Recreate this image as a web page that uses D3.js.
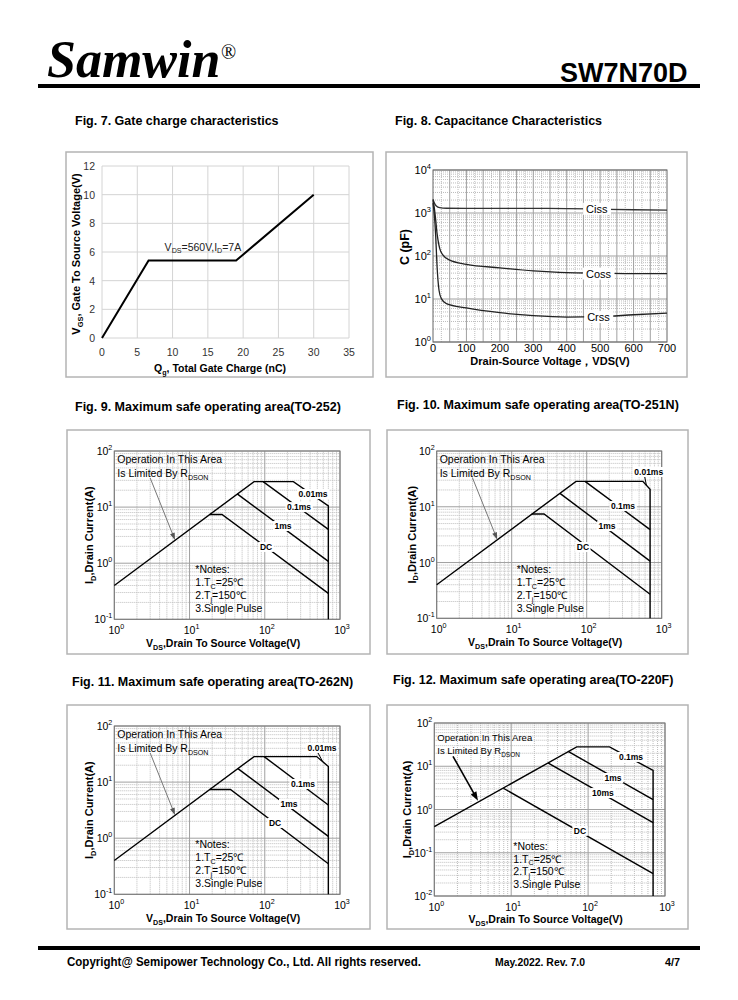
<!DOCTYPE html>
<html>
<head>
<meta charset="utf-8">
<script src="https://cdn.jsdelivr.net/npm/d3@7"></script>
<style>
body { margin: 0; background: #fff; }
svg { display: block; }
text { font-family: "Liberation Sans", Arial, sans-serif; fill: #000; }
</style>
</head>
<body>
<svg id="page" width="738" height="1000"></svg>
<script>
"use strict";

// ---- Fig. 7 gate charge ----
var QG = [0, 6.6, 19, 30];
var VGS = [0, 5.4, 5.4, 10];
var QG_TICKS = [0, 5, 10, 15, 20, 25, 30, 35];
var VGS_TICKS = [0, 2, 4, 6, 8, 10, 12];

// ---- Fig. 8 capacitance ----
var VDS_TICKS = [0, 100, 200, 300, 400, 500, 600, 700];
var CISS_V = [0, 5, 10, 20, 40, 100, 300, 400, 500, 600, 700];
var CISS = [2100, 1650, 1450, 1330, 1290, 1280, 1280, 1270, 1230, 1190, 1170];
var COSS_V = [0, 4, 8, 12, 15, 20, 30, 50, 100, 200, 300, 400, 500, 600, 700];
var COSS = [2000, 1300, 700, 340, 234, 150, 105, 80, 64, 53, 45, 41, 40, 39, 39];
var CRSS_V = [0, 4, 8, 12, 18, 25, 40, 100, 200, 300, 400, 500, 600, 700];
var CRSS = [1700, 900, 300, 60, 16, 10.2, 7.8, 6.2, 4.8, 4.1, 3.8, 3.9, 4.3, 4.7];

// ---- SOA curves, [VDS, ID] ----
var F9_LIMIT = [[1, 0.4], [72, 28.5], [240, 28.5], [700, 10.5], [700, 0.1]];
var F9_P01 = [[95, 28.5], [700, 4]];
var F9_P1 = [[43, 17.2], [700, 1.08]];
var F9_DC = [[18.5, 7.4], [27, 7.4], [700, 0.29]];

var F10_LIMIT = [[1, 0.4], [72, 28.5], [560, 28.5], [700, 20.5], [700, 0.1]];
var F10_P01 = [[95, 28.5], [700, 3.9]];
var F10_P1 = [[44, 17.4], [700, 1.06]];
var F10_DC = [[18.5, 7.4], [27, 7.4], [700, 0.27]];

var F11_LIMIT = [[1, 0.4], [72, 28.5], [490, 28.5], [700, 19], [700, 0.1]];
var F11_P01 = [[98, 28.5], [700, 3.9]];
var F11_P1 = [[44, 17.4], [700, 1.08]];
var F11_DC = [[18.5, 7.4], [35, 7.4], [700, 0.35]];

var F12_LIMIT = [[1, 0.4], [71, 28], [190, 28], [700, 8], [700, 0.01]];
var F12_P1 = [[55, 22], [700, 1.7]];
var F12_P10 = [[30, 12], [700, 0.5]];
var F12_DC = [[7.9, 3.1], [700, 0.033]];

var SOA_XTICKS = [1, 10, 100, 1000];

var GRID = "#a0a0a0";
var GRID_MINOR = "#bdbdbd";

var svg = d3.select("#page");

// text with sub/superscript parts: [[str, "sub"|"sup"|null], ...]
var rich = function(t, parts) {
    var shift = 0;
    parts.forEach(function(p) {
        var s = p[1] === "sub" ? 2.5 : (p[1] === "sup" ? -5 : 0);
        var ts = t.append("tspan").attr("dy", s - shift).text(p[0]);
        if (p[1]) {
            ts.style("font-size", "68%");
        }
        shift = s;
    });
    return t;
};

var text = function(g, x, y, size, opts) {
    opts = opts || {};
    var t = g.append("text").attr("x", x).attr("y", y)
        .style("font-size", size + "px");
    if (opts.bold) t.style("font-weight", "bold");
    if (opts.anchor) t.attr("text-anchor", opts.anchor);
    if (opts.family) t.style("font-family", opts.family);
    if (opts.fill) t.style("fill", opts.fill);
    if (opts.rotate) t.attr("transform", "rotate(-90," + x + "," + y + ")");
    if (opts.len) t.attr("textLength", opts.len).attr("lengthAdjust", "spacingAndGlyphs");
    return t;
};

// white box behind a label so it cuts the line under it
var boxed = function(g, t, pad) {
    var b = t.node().getBBox();
    g.insert("rect", function() { return t.node(); })
        .attr("x", b.x - pad).attr("y", b.y)
        .attr("width", b.width + 2 * pad).attr("height", b.height)
        .attr("fill", "#fff");
};

var minors = function(d0, d1) {
    var out = [];
    for (var e = Math.round(Math.log10(d0)); e < Math.round(Math.log10(d1)); ++e) {
        for (var k = 2; k < 10; ++k) {
            out.push(k * Math.pow(10, e));
        }
    }
    return out;
};
var decades = function(d0, d1) {
    var out = [];
    for (var e = Math.round(Math.log10(d0)); e <= Math.round(Math.log10(d1)); ++e) {
        out.push(Math.pow(10, e));
    }
    return out;
};

var panel = function(x0, y0, x1, y1) {
    svg.append("rect").attr("x", x0).attr("y", y0)
        .attr("width", x1 - x0).attr("height", y1 - y0)
        .attr("fill", "none").attr("stroke", "#b4b4b4").attr("stroke-width", 1.5);
};

// ---- page header / footer ----
text(svg, 47, 77, 52, {bold: true, family: "'Liberation Serif', 'Times New Roman', serif"})
    .style("font-style", "italic").text("Samwin");
text(svg, 221, 59, 20, {family: "'Liberation Serif', serif"}).text("\u00ae");
text(svg, 560, 82, 27, {bold: true}).text("SW7N70D");
svg.append("rect").attr("x", 38).attr("y", 84).attr("width", 662).attr("height", 4).attr("fill", "#000");

svg.append("rect").attr("x", 38).attr("y", 946).attr("width", 662).attr("height", 4).attr("fill", "#000");
text(svg, 67, 966, 12.5, {bold: true, len: 354}).text("Copyright@ Semipower Technology Co., Ltd. All rights reserved.");
text(svg, 495, 966, 10.5, {bold: true, len: 90}).text("May.2022. Rev. 7.0");
text(svg, 665, 966, 10.5, {bold: true, len: 15}).text("4/7");

// ---- figure titles ----
text(svg, 75, 125, 12.5, {bold: true}).text("Fig. 7. Gate charge characteristics");
text(svg, 395, 125, 12.5, {bold: true}).text("Fig. 8. Capacitance Characteristics");
text(svg, 75, 411, 12.5, {bold: true}).text("Fig. 9. Maximum safe operating area(TO-252)");
text(svg, 397, 409, 12.5, {bold: true}).text("Fig. 10. Maximum safe operating area(TO-251N)");
text(svg, 72, 686, 12.5, {bold: true}).text("Fig. 11. Maximum safe operating area(TO-262N)");
text(svg, 393, 684, 12.5, {bold: true}).text("Fig. 12. Maximum safe operating area(TO-220F)");

// ---- Fig. 7 ----
(function() {
    panel(66, 152, 373, 377);
    var g = svg.append("g");
    var x = d3.scaleLinear().domain([0, 35]).range([102, 349]);
    var y = d3.scaleLinear().domain([0, 12]).range([338, 166]);
    g.selectAll(".gx").data(QG_TICKS).join("line")
        .attr("x1", function(d) { return x(d); }).attr("x2", function(d) { return x(d); })
        .attr("y1", y(0)).attr("y2", y(12))
        .attr("stroke", "#d4d4d4").attr("stroke-width", 1);
    g.selectAll(".gy").data(VGS_TICKS).join("line")
        .attr("x1", x(0)).attr("x2", x(35))
        .attr("y1", function(d) { return y(d); }).attr("y2", function(d) { return y(d); })
        .attr("stroke", "#d4d4d4").attr("stroke-width", 1);
    QG_TICKS.forEach(function(d) {
        text(g, x(d), 356, 10.5, {anchor: "middle", fill: "#333"}).text(d);
    });
    VGS_TICKS.forEach(function(d) {
        text(g, 95, y(d) + 4, 10.5, {anchor: "end", fill: "#333"}).text(d);
    });
    g.append("path")
        .datum(d3.range(QG.length))
        .attr("fill", "none").attr("stroke", "#000").attr("stroke-width", 2)
        .attr("d", d3.line()
            .x(function(i) { return x(QG[i]); })
            .y(function(i) { return y(VGS[i]); }));
    rich(text(g, x(14.3), y(6.1), 10.5, {anchor: "middle", fill: "#222"}),
        [["V", null], ["DS", "sub"], ["=560V,I", null], ["D", "sub"], ["=7A", null]]);
    rich(text(g, 220, 372, 10.5, {anchor: "middle", bold: true}),
        [["Q", null], ["g", "sub"], [", Total Gate Charge (nC)", null]]);
    rich(text(g, 80, 254, 11, {anchor: "middle", bold: true, rotate: true}),
        [["V", null], ["GS", "sub"], [",  Gate To  Source Voltage(V)", null]]);
})();

// ---- Fig. 8 ----
(function() {
    panel(386, 152, 687, 377);
    var g = svg.append("g");
    var x = d3.scaleLinear().domain([0, 700]).range([433, 667]);
    var y = d3.scaleLog().domain([1, 10000]).range([342, 170]);
    g.selectAll(".mx").data(d3.range(25, 700, 50)).join("line")
        .attr("x1", function(d) { return x(d); }).attr("x2", function(d) { return x(d); })
        .attr("y1", y(1)).attr("y2", y(10000))
        .attr("stroke", GRID_MINOR).attr("stroke-dasharray", "1,1");
    g.selectAll(".my").data(minors(1, 10000)).join("line")
        .attr("x1", x(0)).attr("x2", x(700))
        .attr("y1", function(d) { return y(d); }).attr("y2", function(d) { return y(d); })
        .attr("stroke", GRID_MINOR).attr("stroke-dasharray", "1,1");
    g.selectAll(".gx").data(d3.range(50, 700, 50)).join("line")
        .attr("x1", function(d) { return x(d); }).attr("x2", function(d) { return x(d); })
        .attr("y1", y(1)).attr("y2", y(10000))
        .attr("stroke", GRID);
    g.selectAll(".gy").data(decades(1, 10000)).join("line")
        .attr("x1", x(0)).attr("x2", x(700))
        .attr("y1", function(d) { return y(d); }).attr("y2", function(d) { return y(d); })
        .attr("stroke", GRID);
    g.append("rect").attr("x", x(0)).attr("y", y(10000))
        .attr("width", x(700) - x(0)).attr("height", y(1) - y(10000))
        .attr("fill", "none").attr("stroke", "#666");

    var curve = function(vs, cs, color) {
        g.append("path")
            .datum(d3.range(vs.length))
            .attr("fill", "none").attr("stroke", color).attr("stroke-width", 1.3)
            .attr("d", d3.line().curve(d3.curveMonotoneX)
                .x(function(i) { return x(vs[i]); })
                .y(function(i) { return y(cs[i]); }));
    };
    curve(CISS_V, CISS, "#333");
    curve(COSS_V, COSS, "#222");
    curve(CRSS_V, CRSS, "#222");

    var lab = function(v, c, s) {
        var t = text(g, x(v), y(c) + 4, 11, {anchor: "middle"}).text(s);
        boxed(g, t, 3);
    };
    lab(490, 1250, "Ciss");
    lab(495, 39, "Coss");
    lab(495, 3.8, "Crss");

    VDS_TICKS.forEach(function(d) {
        text(g, x(d), 352, 11, {anchor: "middle"}).text(d);
    });
    decades(1, 10000).forEach(function(d) {
        rich(text(g, 431, y(d) + 4, 11, {anchor: "end"}), [["10", null], [Math.round(Math.log10(d)), "sup"]]);
    });
    text(g, 409, 247, 12.5, {anchor: "middle", bold: true, rotate: true}).text("C (pF)");
    text(g, 550, 365, 11, {anchor: "middle", bold: true}).text("Drain-Source Voltage\uff0cVDS(V)");
})();

// ---- SOA charts ----
var soa = function(o) {
    panel(o.box[0], o.box[1], o.box[2], o.box[3]);
    var g = svg.append("g");
    var x = d3.scaleLog().domain([1, 1000]).range([o.l, o.r]);
    var y = d3.scaleLog().domain(o.yd).range([o.b, o.t]);

    g.selectAll(".mx").data(minors(1, 1000)).join("line")
        .attr("x1", function(d) { return x(d); }).attr("x2", function(d) { return x(d); })
        .attr("y1", o.b).attr("y2", o.t)
        .attr("stroke", GRID_MINOR).attr("stroke-dasharray", "1,1");
    g.selectAll(".my").data(minors(o.yd[0], o.yd[1])).join("line")
        .attr("x1", o.l).attr("x2", o.r)
        .attr("y1", function(d) { return y(d); }).attr("y2", function(d) { return y(d); })
        .attr("stroke", GRID_MINOR).attr("stroke-dasharray", "1,1");
    g.selectAll(".gx").data(SOA_XTICKS).join("line")
        .attr("x1", function(d) { return x(d); }).attr("x2", function(d) { return x(d); })
        .attr("y1", o.b).attr("y2", o.t)
        .attr("stroke", GRID);
    g.selectAll(".gy").data(decades(o.yd[0], o.yd[1])).join("line")
        .attr("x1", o.l).attr("x2", o.r)
        .attr("y1", function(d) { return y(d); }).attr("y2", function(d) { return y(d); })
        .attr("stroke", GRID);
    g.append("rect").attr("x", o.l).attr("y", o.t)
        .attr("width", o.r - o.l).attr("height", o.b - o.t)
        .attr("fill", "none").attr("stroke", "#777");

    var line = d3.line()
        .x(function(d) { return x(d[0]); })
        .y(function(d) { return y(d[1]); });
    o.series.forEach(function(s) {
        g.append("path").datum(s)
            .attr("fill", "none").attr("stroke", "#000").attr("stroke-width", 1.4)
            .attr("stroke-linejoin", "miter")
            .attr("d", line);
    });

    o.labels.forEach(function(l) {
        var t = text(g, x(l[0]), y(l[1]) + 3, 8.5, {anchor: "middle", bold: true}).text(l[2]);
        boxed(g, t, 1.5);
        if (l[3]) {
            // leader from label to its curve
            g.append("line")
                .attr("x1", x(l[0]) - 4).attr("y1", y(l[1]) + 5)
                .attr("x2", x(l[3][0])).attr("y2", y(l[3][1]))
                .attr("stroke", "#000").attr("stroke-width", 1);
        }
    });

    // R_DS(on) note and arrow
    var fs = o.noteSize;
    text(g, o.l + 3, o.t + o.op[0], o.opSize, {}).text("Operation In This Area");
    rich(text(g, o.l + 3, o.t + o.op[1], o.opSize, {}),
        [["Is Limited By R", null], ["DSON", "sub"]]);
    var a0 = [x(o.arrow[0][0]), y(o.arrow[0][1])];
    var a1 = [x(o.arrow[1][0]), y(o.arrow[1][1])];
    var ang = Math.atan2(a1[1] - a0[1], a1[0] - a0[0]);
    var hl = o.arrowBold ? 9 : 7, hw = o.arrowBold ? 3.2 : 2.5;
    g.append("line").attr("x1", a0[0]).attr("y1", a0[1])
        .attr("x2", a1[0] - Math.cos(ang) * hl * 0.8).attr("y2", a1[1] - Math.sin(ang) * hl * 0.8)
        .attr("stroke", o.arrowBold ? "#000" : "#777")
        .attr("stroke-width", o.arrowBold ? 1.6 : 1);
    var bx = a1[0] - Math.cos(ang) * hl, by = a1[1] - Math.sin(ang) * hl;
    g.append("path")
        .attr("d", "M" + a1[0] + "," + a1[1] +
            "L" + (bx + Math.sin(ang) * hw) + "," + (by - Math.cos(ang) * hw) +
            "L" + (bx - Math.sin(ang) * hw) + "," + (by + Math.cos(ang) * hw) + "Z")
        .attr("fill", o.arrowBold ? "#000" : "#555");

    var nx = o.l + o.notes[0];
    text(g, nx, o.t + o.notes[1], fs, {}).text("*Notes:");
    rich(text(g, nx, o.t + o.notes[1] + o.notes[2], fs, {}),
        [["1.T", null], ["C", "sub"], ["=25\u2103", null]]);
    rich(text(g, nx, o.t + o.notes[1] + 2 * o.notes[2], fs, {}),
        [["2.T", null], ["j", "sub"], ["=150\u2103", null]]);
    text(g, nx, o.t + o.notes[1] + 3 * o.notes[2], fs, {}).text("3.Single Pulse");

    SOA_XTICKS.forEach(function(d) {
        rich(text(g, x(d) + 2, o.b + 15, 10.5, {anchor: "middle"}),
            [["10", null], [Math.round(Math.log10(d)), "sup"]]);
    });
    decades(o.yd[0], o.yd[1]).forEach(function(d) {
        rich(text(g, o.l - 2, y(d) + 4, 10.5, {anchor: "end"}), [["10", null], [Math.round(Math.log10(d)), "sup"]]);
    });
    rich(text(g, o.l - o.yt, (o.t + o.b) / 2, 11, {anchor: "middle", bold: true, rotate: true}),
        [["I", null], ["D", "sub"], [",Drain Current(A)", null]]);
    rich(text(g, (o.l + o.r) / 2 - 4, o.b + o.xt, 10.5, {anchor: "middle", bold: true}),
        [["V", null], ["DS", "sub"], [",Drain To Source Voltage(V)", null]]);
};

soa({
    box: [67, 430, 370, 654], l: 114.3, r: 340, t: 451, b: 619.3, yd: [0.1, 100], xt: 28, yt: 21,
    series: [F9_LIMIT, F9_P01, F9_P1, F9_DC],
    labels: [[438, 17.1, "0.01ms"], [285, 10, "0.1ms"], [175, 4.6, "1ms"], [104, 1.95, "DC"]],
    op: [12, 26], notes: [81, 122, 13], noteSize: 10.5, opSize: 10.5,
    arrow: [[3.0, 33], [6.4, 2.6]]
});
soa({
    box: [387, 430, 688, 654], l: 436.7, r: 661.7, t: 451, b: 618.3, yd: [0.1, 100], xt: 28, yt: 21,
    series: [F10_LIMIT, F10_P01, F10_P1, F10_DC],
    labels: [[672, 42, "0.01ms", [626, 24]], [305, 10.3, "0.1ms"], [187, 4.5, "1ms"], [89, 1.9, "DC"]],
    op: [12, 26], notes: [80, 122, 13], noteSize: 10.5, opSize: 10.5,
    arrow: [[3.0, 33], [6.4, 2.6]]
});
soa({
    box: [67, 705, 370, 929], l: 114.3, r: 340, t: 726, b: 894.3, yd: [0.1, 100], xt: 28, yt: 21,
    series: [F11_LIMIT, F11_P01, F11_P1, F11_DC],
    labels: [[577, 40.6, "0.01ms", [590, 23]], [322, 9.25, "0.1ms"], [210, 4.07, "1ms"], [137, 1.87, "DC"]],
    op: [12, 26], notes: [81, 122, 13], noteSize: 10.5, opSize: 10.5,
    arrow: [[3.0, 33], [6.4, 2.6]]
});
soa({
    box: [387, 705, 688, 929], l: 434.3, r: 665, t: 723, b: 896, yd: [0.01, 100], xt: 27, yt: 23,
    series: [F12_LIMIT, F12_P1, F12_P10, F12_DC],
    labels: [[361, 16.4, "0.1ms"], [211, 5.35, "1ms"], [156, 2.4, "10ms"], [78.5, 0.32, "DC"]],
    op: [18, 31], notes: [79, 127, 12.5], noteSize: 10.5, opSize: 9.5,
    arrow: [[1.75, 17], [3.7, 1.6]], arrowBold: true
});
</script>
</body>
</html>
